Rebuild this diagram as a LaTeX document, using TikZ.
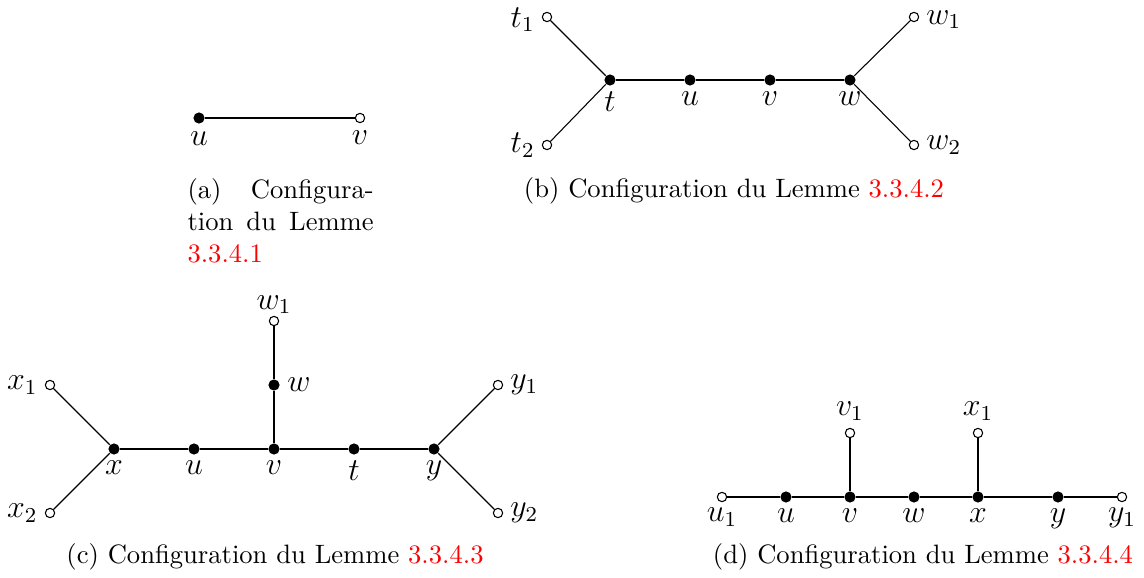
\documentclass[tikz,border=0pt]{standalone}
\usepackage{xcolor}
\usetikzlibrary{positioning}
\tikzset{
  plein/.style={circle, fill=black, inner sep=0pt, minimum size=4.2pt},
  vide/.style={circle, draw=black, fill=white, inner sep=0pt, minimum size=3.5pt},
  every label/.style={font=\large, inner sep=2.5pt},
  legende/.style={inner sep=0pt},
}
\newcommand{\lemme}[1]{\textcolor{red}{#1}}
\newcommand{\etire}{\hspace{0pt plus 1fil}}

\begin{document}
\begin{tikzpicture}[x=0.376pt, y=-0.376pt]
    \useasboundingbox (0,0) rectangle (1144,578);

    % (a)
    \node[plein, label=below:$u$] (au) at (199,118) {};
    \node[vide, label=below:$v$] (av) at (360,118) {};
    \draw (au) -- (av);
    \node[legende, text width=70pt, align=left, anchor=north west] (capa) at (187,178)
        {\makebox[70pt][s]{(a)\etire{} Configura-}\\ \makebox[70pt][s]{tion\etire{} du\etire{} Lemme}\\ \lemme{3.3.4.1}};

    % (b)
    \foreach \n/\x in {t/610, u/690, v/770, w/850}
        \node[plein, label={[label distance=-0.5pt]below:$\n$}] (b\n) at (\x,80) {};
    \node[vide, label={[yshift=-1pt]left:$t_1$}] (bt1) at (547,17) {};
    \node[vide, label=left:$t_2$] (bt2) at (547,145) {};
    \node[vide, label={[yshift=-1pt]right:$w_1$}] (bw1) at (914,17) {};
    \node[vide, label=right:$w_2$] (bw2) at (914,145) {};
    \draw (bt) -- (bu) -- (bv) -- (bw);
    \draw (bt1) -- (bt) -- (bt2);
    \draw (bw1) -- (bw) -- (bw2);
    \node[legende] (capb) at (734,191) {(b) Configuration du Lemme \lemme{3.3.4.2}};

    % (c)
    \foreach \n/\x in {x/114, u/194, v/274, t/354, y/434}
        \node[plein, label={[label distance=-0.5pt]below:$\n$}] (c\n) at (\x,449) {};
    \node[plein, label=right:$w$] (cw) at (274,385) {};
    \node[vide, label={[label distance=-2pt]above:$w_1$}] (cw1) at (274,321) {};
    \node[vide, label=left:$x_1$] (cx1) at (50,385) {};
    \node[vide, label=left:$x_2$] (cx2) at (50,513) {};
    \node[vide, label=right:$y_1$] (cy1) at (498,385) {};
    \node[vide, label=right:$y_2$] (cy2) at (498,513) {};
    \draw (cx) -- (cu) -- (cv) -- (ct) -- (cy);
    \draw (cv) -- (cw) -- (cw1);
    \draw (cx1) -- (cx) -- (cx2);
    \draw (cy1) -- (cy) -- (cy2);
    \node[legende] (capc) at (275,557) {(c) Configuration du Lemme \lemme{3.3.4.3}};

    % (d)
    \foreach \n/\x in {u/786, v/850, w/914, x/978, y/1058}
        \node[plein, label={[label distance=-0.5pt]below:$\n$}] (d\n) at (\x,497) {};
    \node[vide, label={[label distance=-0.5pt]below:$u_1$}] (du1) at (722,497) {};
    \node[vide, label={[label distance=-0.5pt]below:$y_1$}] (dy1) at (1122,497) {};
    \node[vide, label=above:$v_1$] (dv1) at (850,433) {};
    \node[vide, label=above:$x_1$] (dx1) at (978,433) {};
    \draw (du1) -- (du) -- (dv) -- (dw) -- (dx) -- (dy) -- (dy1);
    \draw (dv) -- (dv1);
    \draw (dx) -- (dx1);
    \node[legende] (capd) at (923,557) {(d) Configuration du Lemme \lemme{3.3.4.4}};
\end{tikzpicture}
\end{document}
